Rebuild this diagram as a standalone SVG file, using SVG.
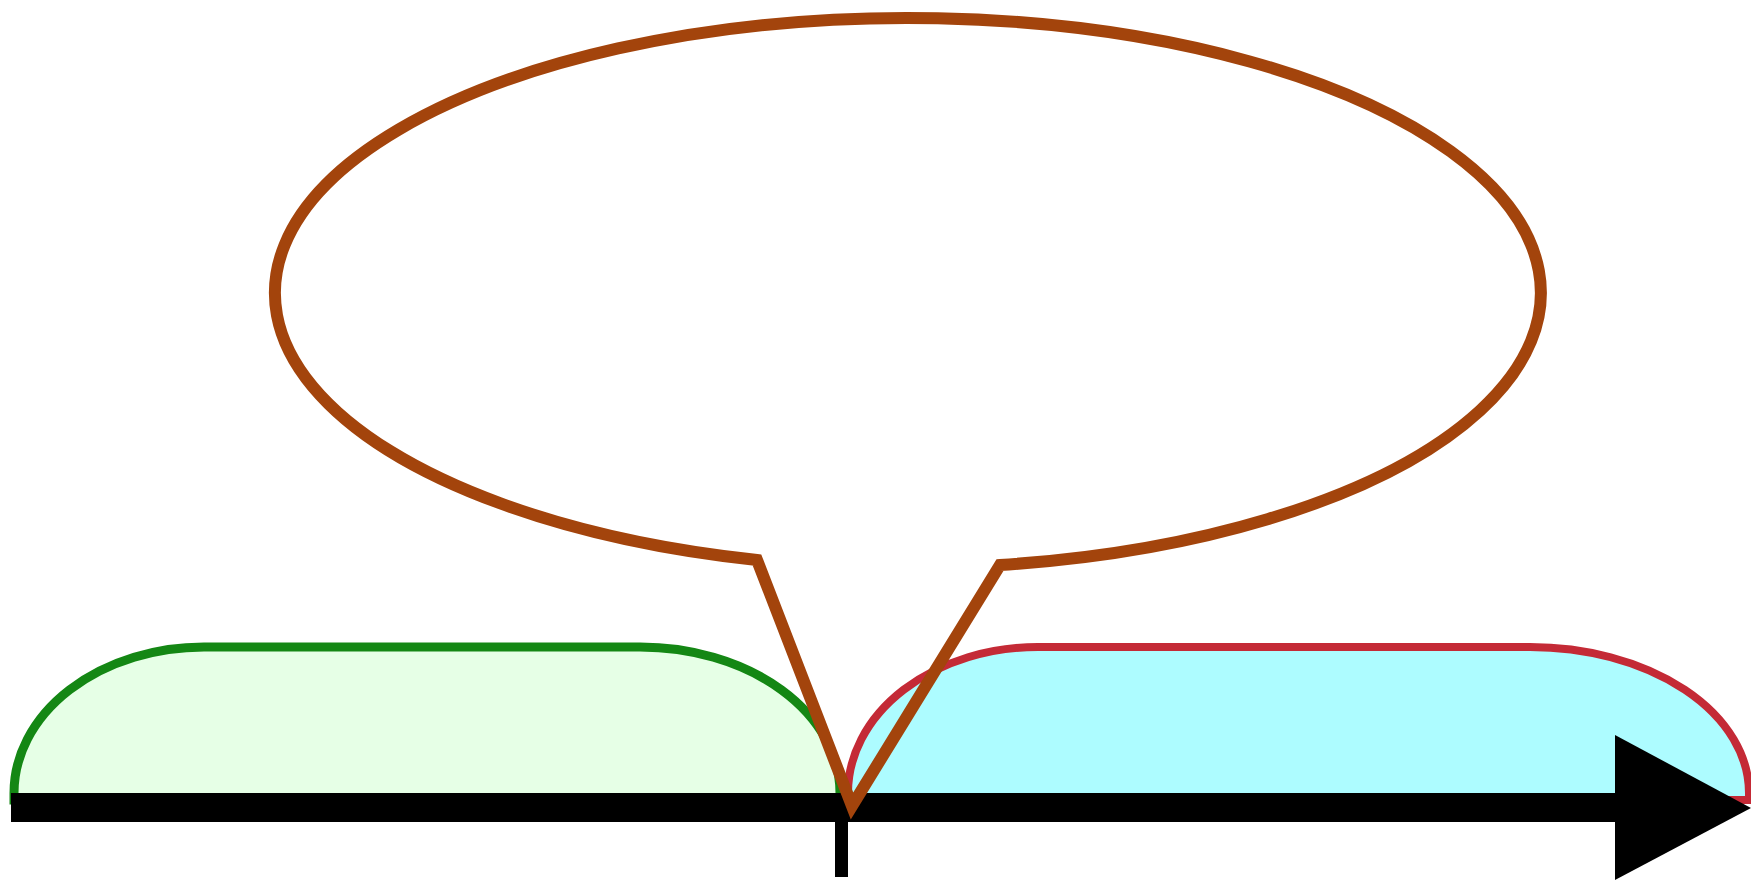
<svg xmlns="http://www.w3.org/2000/svg" width="1751" height="881" viewBox="0 0 1751 881">
<style>
.axis{fill:#000}
.green{fill:#e6ffe6;stroke:#148714;stroke-width:9}
.red{fill:#adfcff;stroke:#c42a36;stroke-width:8}
.bubble{fill:none;stroke:#a3440c;stroke-width:12;stroke-linejoin:miter}
</style>
<rect width="1751" height="881" fill="#fff"/>
<g id="green-interval">
<path class="green" d="M14,800 L14,793 A190,146 0 0 1 204,647 L640,647 A200,146 0 0 1 840,793 L840,800 Z"/>
</g>
<g id="red-interval">
<path class="red" d="M848,800 L848,793 A190,146 0 0 1 1038,647 L1530,647 A219,146 0 0 1 1749,793 L1749,800 Z"/>
</g>
<g id="connectors">
<rect class="axis" x="835" y="800" width="13" height="77"/>
<rect class="axis" x="11" y="793" width="1610" height="29"/>
<polygon class="axis" points="1615,735 1751,808 1615,880"/>
</g>
<g id="bubble">
<path class="bubble" d="M757,560 A633,275 0 1 1 1000,565 L852,806 Z"/>
</g>
</svg>
